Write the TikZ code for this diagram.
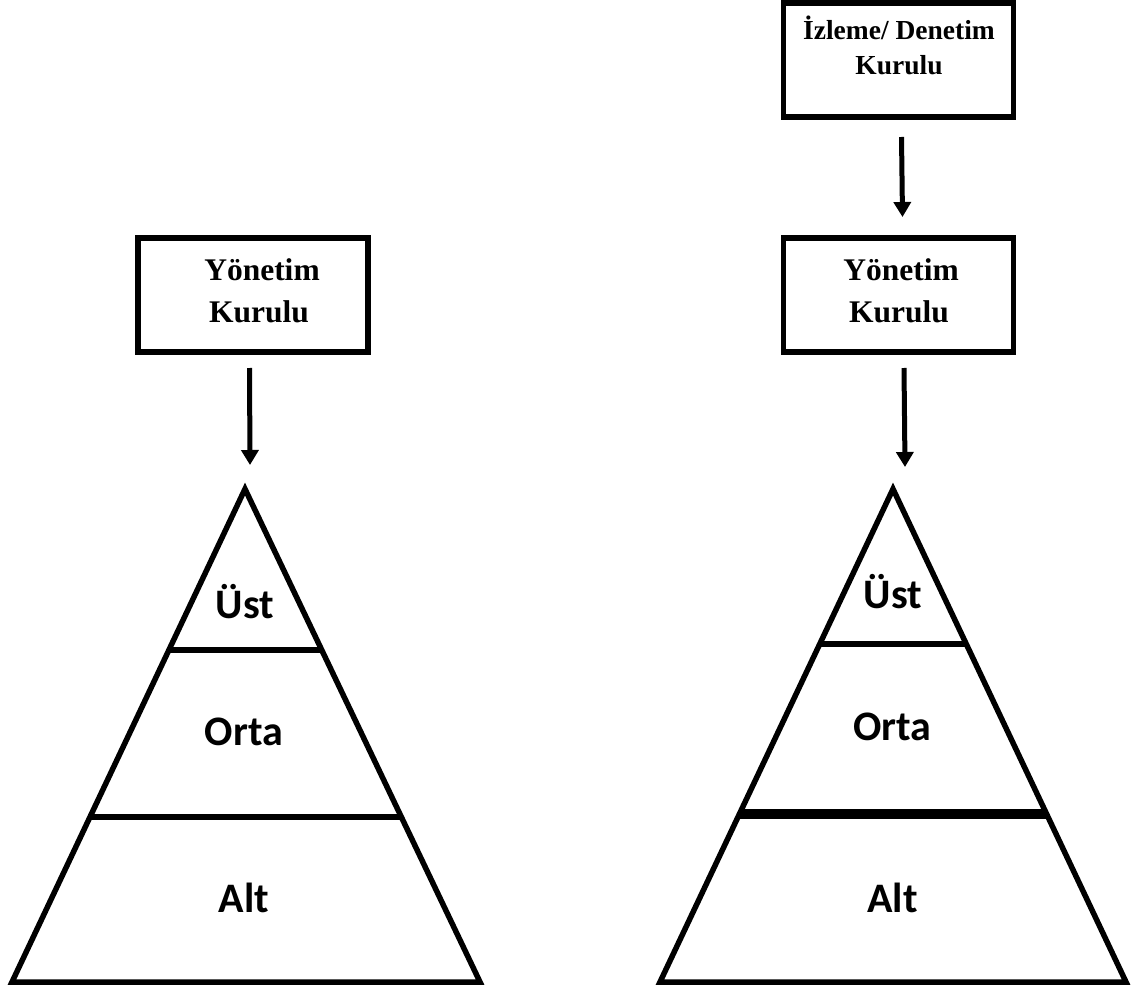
\documentclass[tikz,border=0pt]{standalone}
\usepackage{fontspec}
\setmainfont{Liberation Serif}
\newfontfamily\calfont{Carlito}
\usetikzlibrary{arrows.meta,calc}

\begin{document}
\begin{tikzpicture}[x = 1pt, y = -1pt,
                        board/.style = {draw, line width = 5.7pt, minimum width = 230pt, minimum height = 114pt, inner sep = 0pt, outer sep = 0pt},
                        boardtext/.style = {anchor = base, inner sep = 0pt, font = {\bfseries\fontsize{31.5}{36}\selectfont}},
                        smalltext/.style = {boardtext, font = {\bfseries\fontsize{27.5}{32}\selectfont}},
                        level/.style = {anchor = base, inner sep = 0pt, font = {\calfont\bfseries\fontsize{42}{48}\selectfont}},
                        arr/.style = {line width = 5pt, -{Triangle[width = 17pt, length = 15pt]}},
                        pyr/.style = {line width = 5.5pt, line join = miter}]
      \useasboundingbox (0, 0) rectangle (1131, 992);
      % left: board and pyramid
      \node [board] (yk1) at (253, 295){};
      \node [boardtext] (yk1a) at (262, 280){Yönetim};
      \node [boardtext] (yk1b) at (259, 322){Kurulu};
      \coordinate (top1) at (245, 489);
      \coordinate (bl1) at (12, 982);
      \coordinate (br1) at (480, 982);
      \draw [pyr] (top1) -- (bl1) -- (br1) -- cycle;
      \draw [pyr] ($(top1)!0.3266!(bl1)$) -- ($(top1)!0.3266!(br1)$);
      \draw [pyr] ($(top1)!0.665!(bl1)$) -- ($(top1)!0.665!(br1)$);
      \node [level] (ust1) at (245, 618){Üst};
      \node [level] (orta1) at (244, 745){Orta};
      \node [level] (alt1) at (244, 912){Alt};
      \coordinate (a1s) at (249.5, 368);
      \coordinate (a1e) at (250, 465);
      \draw [arr] (a1s) -- (a1e);
      % right: two boards and pyramid
      \node [board] (idk) at (898.5, 60){};
      \node [smalltext] (idka) at (899, 40){İzleme/ Denetim};
      \node [smalltext] (idkb) at (899, 75){Kurulu};
      \node [board] (yk2) at (898.5, 295){};
      \node [boardtext] (yk2a) at (901, 280){Yönetim};
      \node [boardtext] (yk2b) at (899, 322){Kurulu};
      \coordinate (top2) at (893, 489);
      \coordinate (bl2) at (660, 982);
      \coordinate (br2) at (1126, 982);
      \draw [pyr] (top2) -- (bl2) -- (br2) -- cycle;
      \draw [pyr] ($(top2)!0.3144!(bl2)$) -- ($(top2)!0.3144!(br2)$);
      \draw [pyr, line width = 10pt] ($(top2)!0.659!(bl2)$) -- ($(top2)!0.659!(br2)$);
      \node [level] (ust2) at (893, 608){Üst};
      \node [level] (orta2) at (892.5, 740){Orta};
      \node [level] (alt2) at (892.5, 912){Alt};
      \coordinate (a2s) at (901.5, 137);
      \coordinate (a2e) at (902.5, 217);
      \draw [arr] (a2s) -- (a2e);
      \coordinate (a3s) at (904, 368);
      \coordinate (a3e) at (905, 467);
      \draw [arr] (a3s) -- (a3e);
    \end{tikzpicture}
\end{document}
